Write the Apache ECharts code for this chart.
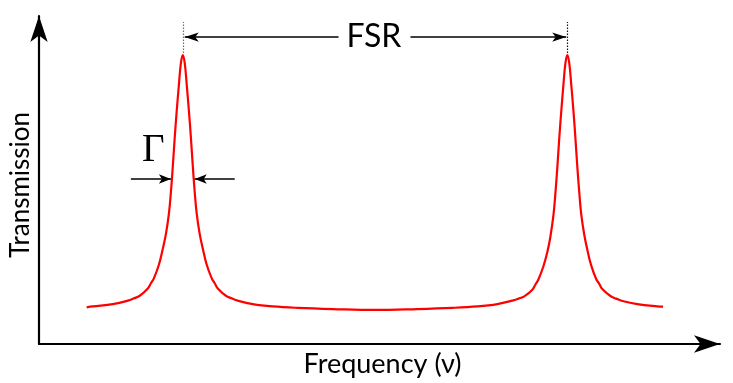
<!DOCTYPE html>
<html>
<head>
<meta charset="utf-8">
<script src="https://cdn.jsdelivr.net/npm/echarts@6/dist/echarts.min.js"></script>
<style>
  html, body { margin: 0; padding: 0; background: #fff; }
  #chart { width: 733px; height: 383px; }
</style>
</head>
<body>
<div id="chart"></div>
<script>
// Frequency in units of the free spectral range (resonances at 1 and 2)
const frequency = [
  0.750, 0.766, 0.818, 0.857, 0.873, 0.888, 0.909, 0.917, 0.925, 0.938,
  0.948, 0.956, 0.964, 0.969, 0.974, 0.979, 0.984, 0.990, 0.995, 1.000,
  1.005, 1.010, 1.016, 1.021, 1.026, 1.031, 1.036, 1.044, 1.052, 1.062,
  1.075, 1.083, 1.091, 1.112, 1.127, 1.143, 1.182, 1.234, 1.299, 1.390,
  1.500,
  1.610, 1.701, 1.766, 1.818, 1.857, 1.873, 1.888, 1.909, 1.917, 1.925,
  1.938, 1.948, 1.956, 1.964, 1.969, 1.974, 1.979, 1.984, 1.990, 1.995,
  2.000,
  2.005, 2.010, 2.016, 2.021, 2.026, 2.031, 2.036, 2.044, 2.052, 2.062,
  2.075, 2.083, 2.091, 2.112, 2.127, 2.143, 2.182, 2.234, 2.249
];
// Transmission, normalised to the resonance maximum
const transmission = [
  0.127, 0.130, 0.138, 0.150, 0.158, 0.167, 0.192, 0.210, 0.228, 0.275,
  0.330, 0.380, 0.453, 0.525, 0.615, 0.715, 0.804, 0.900, 0.972, 1.000,
  0.972, 0.900, 0.804, 0.715, 0.615, 0.525, 0.453, 0.380, 0.330, 0.275,
  0.228, 0.210, 0.192, 0.167, 0.158, 0.150, 0.138, 0.130, 0.125, 0.121,
  0.118,
  0.121, 0.125, 0.130, 0.138, 0.150, 0.157, 0.165, 0.188, 0.206, 0.224,
  0.270, 0.318, 0.372, 0.448, 0.522, 0.612, 0.712, 0.802, 0.900, 0.972,
  1.000,
  0.972, 0.900, 0.804, 0.712, 0.612, 0.525, 0.450, 0.378, 0.326, 0.272,
  0.225, 0.208, 0.190, 0.166, 0.157, 0.149, 0.138, 0.130, 0.129
];

// Resonance positions and annotation levels (data units)
const resonances = [1, 2];
const markerTop = [1.007, 1.114];          // dotted guide from peak top upward
const fsrLevel = 1.062;
const fsrSegments = [[1.005, 1.405], [1.592, 1.997]];
const fsrLabelAt = [1.497, 1.062];
const gammaLevel = 0.571;
const gammaSegments = [[0.865, 0.969], [1.135, 1.031]];
const gammaLabelAt = [0.923, 0.668];

const curve = frequency.map((f, i) => [f, transmission[i]]);

const arrowHeadFsr = [7, 14];
const arrowHeadGamma = [7, 12];

const markLines = [];
// dotted guides above each resonance
resonances.forEach((f, i) => {
  markLines.push([
    { coord: [f, markerTop[0]], symbol: 'none',
      lineStyle: { type: [1.5, 1.5], width: 1.2, color: i === 0 ? '#6e6e6e' : '#111' } },
    { coord: [f, markerTop[1]], symbol: 'none' }
  ]);
});
// FSR double arrow, broken around its label
markLines.push([
  { coord: [fsrSegments[0][0], fsrLevel], symbol: 'arrow', symbolSize: arrowHeadFsr,
    lineStyle: { type: 'solid', width: 1.6, color: '#000' } },
  { coord: [fsrSegments[0][1], fsrLevel], symbol: 'none' }
]);
markLines.push([
  { coord: [fsrSegments[1][0], fsrLevel], symbol: 'none',
    lineStyle: { type: 'solid', width: 1.6, color: '#000' } },
  { coord: [fsrSegments[1][1], fsrLevel], symbol: 'arrow', symbolSize: arrowHeadFsr }
]);
// linewidth arrows pointing at the half-maximum points
gammaSegments.forEach(seg => {
  markLines.push([
    { coord: [seg[0], gammaLevel], symbol: 'none',
      lineStyle: { type: 'solid', width: 1.6, color: '#000' } },
    { coord: [seg[1], gammaLevel], symbol: 'arrow', symbolSize: arrowHeadGamma }
  ]);
});

const chart = echarts.init(document.getElementById('chart'), null, { renderer: 'canvas' });
chart.setOption({
  animation: false,
  backgroundColor: '#fff',
  grid: { left: 38, right: 13, top: 16, bottom: 39 },
  xAxis: {
    type: 'value', min: 0.626, max: 2.397,
    axisLine: { show: true, onZero: false, symbol: ['none', 'arrow'], symbolSize: [13, 26],
      lineStyle: { color: '#000', width: 2.2 } },
    axisTick: { show: false }, axisLabel: { show: false }, splitLine: { show: false },
    name: 'Frequency (ν)', nameLocation: 'middle', nameGap: 7,
    nameTextStyle: { fontFamily: 'Lato', fontSize: 27, color: '#000', padding: [0, 0, 0, 6] }
  },
  yAxis: {
    type: 'value', min: 0, max: 1.135,
    axisLine: { show: true, onZero: false, symbol: ['none', 'arrow'], symbolSize: [13, 26],
      lineStyle: { color: '#000', width: 2.2 } },
    axisTick: { show: false }, axisLabel: { show: false }, splitLine: { show: false },
    name: 'Transmission', nameLocation: 'middle', nameGap: 5, nameRotate: 90,
    nameTextStyle: { fontFamily: 'Lato', fontSize: 26, color: '#000', padding: [0, 10, 0, 0] }
  },
  series: [{
    type: 'line',
    data: curve,
    showSymbol: false,
    smooth: 0.4,
    silent: true,
    lineStyle: { color: '#ff0000', width: 2.2 },
    markLine: {
      silent: true,
      symbol: ['none', 'none'],
      label: { show: false },
      lineStyle: { type: 'solid', color: '#000', width: 1.5 },
      data: markLines
    },
    markPoint: {
      silent: true,
      symbol: 'circle',
      symbolSize: 1,
      itemStyle: { color: 'rgba(0,0,0,0)' },
      label: { show: true, position: 'inside', color: '#000' },
      data: [
        { coord: fsrLabelAt, label: { formatter: 'FSR', fontFamily: 'Lato', fontSize: 32 } },
        { coord: gammaLabelAt, label: { formatter: 'Γ', fontFamily: 'Liberation Serif', fontSize: 39 } }
      ]
    }
  }]
});
</script>
</body>
</html>
